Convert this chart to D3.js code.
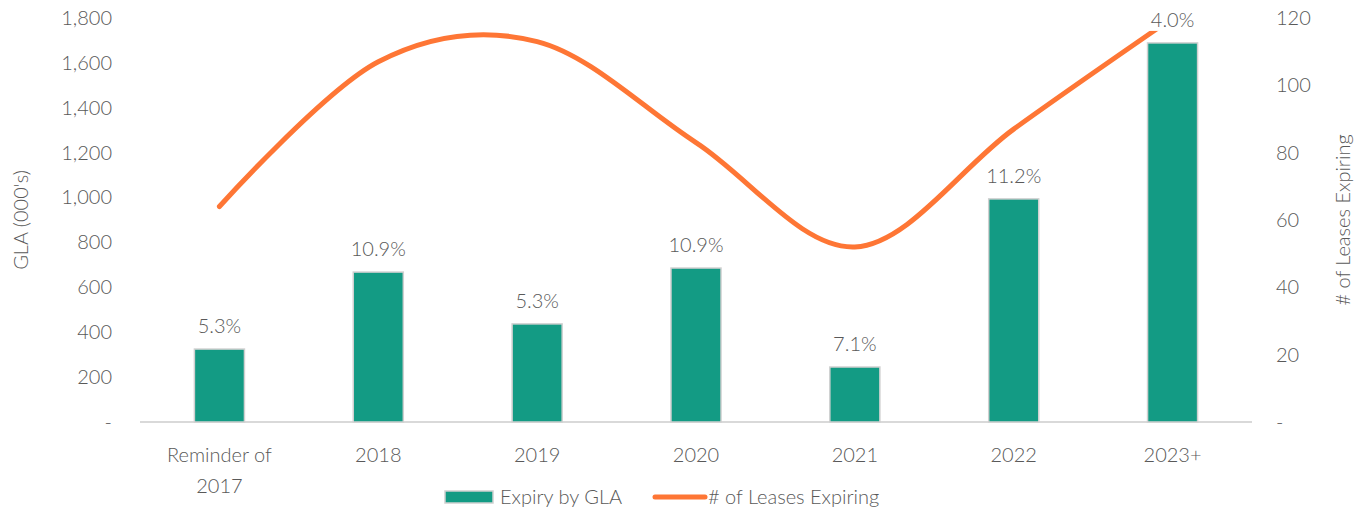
<!DOCTYPE html>
<html>
<head>
<meta charset="utf-8">
<script src="https://cdn.jsdelivr.net/npm/d3@7"></script>
<style>
  body { margin: 0; background: #fff; }
  text { font-family: "Source Sans Pro", Lato, "Open Sans", sans-serif; font-weight: 300; fill: #595959; }
</style>
</head>
<body>
<div id="chart"></div>
<script>
const categories = [["Reminder of", "2017"], ["2018"], ["2019"], ["2020"], ["2021"], ["2022"], ["2023+"]];
const glaValues = [325, 668, 437, 686, 245, 994, 1689];
const pctLabels = ["5.3%", "10.9%", "5.3%", "10.9%", "7.1%", "11.2%", "4.0%"];
const leaseCounts = [64, 107, 113, 83, 52, 87, 120];
const leftTicks = [0, 200, 400, 600, 800, 1000, 1200, 1400, 1600, 1800];
const rightTicks = [0, 20, 40, 60, 80, 100, 120];

const W = 1365, H = 510;
const margin = { top: 18, right: 113, bottom: 88, left: 140 };
const width = W - margin.left - margin.right,
  height = H - margin.top - margin.bottom;

const svg = d3.select("#chart").append("svg")
  .attr("width", W)
  .attr("height", H);
const g = svg.append("g").attr("transform", `translate(${margin.left},${margin.top})`);

const x = d3.scaleBand().domain(d3.range(categories.length)).range([0, width]).paddingInner(0.685).paddingOuter(0.3425);
const yL = d3.scaleLinear().domain([0, 1800]).range([height, 0]);
const yR = d3.scaleLinear().domain([0, 120]).range([height, 0]);

const barColor = "#139b84";
const lineColor = "#fe7635";

// Left axis
const fmt = d3.format(",");
const axL = g.append("g").attr("transform", "translate(-28,0)")
  .call(d3.axisLeft(yL).tickValues(leftTicks).tickSize(0).tickPadding(0).tickFormat(d => d === 0 ? "-" : fmt(d)));
axL.select(".domain").remove();
axL.selectAll("text").style("font-size", "20px").style("font-family", null).attr("fill", null);

// Right axis
const axR = g.append("g").attr("transform", `translate(${width + 24},0)`)
  .call(d3.axisRight(yR).tickValues(rightTicks).tickSize(0).tickPadding(0).tickFormat(d => d === 0 ? "-" : d));
axR.select(".domain").remove();
axR.selectAll("text").style("font-size", "20px").style("font-family", null).attr("fill", null);

// Baseline
g.append("line")
  .attr("x1", 0).attr("x2", width)
  .attr("y1", yL(0)).attr("y2", yL(0))
  .attr("stroke", "#d9d9d9").attr("stroke-width", 2);

// Bars
g.selectAll(".bar")
  .data(glaValues)
  .join("rect")
  .attr("class", "bar")
  .attr("x", (d, i) => x(i))
  .attr("y", d => yL(d))
  .attr("width", x.bandwidth())
  .attr("height", d => yL(0) - yL(d))
  .attr("fill", barColor)
  .attr("stroke", "#d0d0d0")
  .attr("stroke-width", 1.5);

// Line
const line = d3.line()
  .x((d, i) => x(i) + x.bandwidth() / 2)
  .y(d => yR(d))
  .curve(d3.curveCatmullRom.alpha(0));

g.append("path")
  .datum(leaseCounts)
  .attr("fill", "none")
  .attr("stroke", lineColor)
  .attr("stroke-width", 5)
  .attr("stroke-linecap", "round")
  .attr("d", line);

// Bar labels (white box behind, like the data labels in the original)
const labels = g.selectAll(".pct")
  .data(pctLabels)
  .join("g")
  .attr("class", "pct");
labels.append("rect").attr("fill", "#fff");
labels.append("text")
  .attr("x", (d, i) => x(i) + x.bandwidth() / 2)
  .attr("y", (d, i) => yL(glaValues[i]) - 16)
  .attr("text-anchor", "middle")
  .style("font-size", "20px")
  .text(d => d);
labels.each(function () {
  const bb = d3.select(this).select("text").node().getBBox();
  d3.select(this).select("rect")
    .attr("x", bb.x - 7).attr("y", bb.y)
    .attr("width", bb.width + 14).attr("height", bb.height);
});

// X labels
categories.forEach((lines, i) => {
  const t = g.append("text")
    .attr("x", x(i) + x.bandwidth() / 2)
    .attr("y", height + 40)
    .attr("text-anchor", "middle")
    .style("font-size", "20px");
  lines.forEach((s, j) => {
    t.append("tspan").attr("x", x(i) + x.bandwidth() / 2).attr("dy", j === 0 ? 0 : 31).text(s);
  });
});

// Axis titles
svg.append("text")
  .attr("transform", `translate(28,${margin.top + height / 2}) rotate(-90)`)
  .attr("text-anchor", "middle")
  .style("font-size", "20px")
  .text("GLA (000's)");

svg.append("text")
  .attr("transform", `translate(${W - 15},${margin.top + height / 2}) rotate(-90)`)
  .attr("text-anchor", "middle")
  .style("font-size", "20px")
  .text("# of Leases Expiring");

// Legend
const legend = svg.append("g").attr("transform", "translate(445,497)");
legend.append("rect")
  .attr("x", 0).attr("y", -6)
  .attr("width", 48).attr("height", 12)
  .attr("fill", barColor)
  .attr("stroke", "#d0d0d0").attr("stroke-width", 1.5);
legend.append("text")
  .attr("x", 55).attr("y", 7)
  .style("font-size", "20px")
  .text("Expiry by GLA");
legend.append("line")
  .attr("x1", 210).attr("x2", 260)
  .attr("y1", 0).attr("y2", 0)
  .attr("stroke", lineColor).attr("stroke-width", 5).attr("stroke-linecap", "round");
legend.append("text")
  .attr("x", 263).attr("y", 7)
  .style("font-size", "20px")
  .text("# of Leases Expiring");
</script>
</body>
</html>
